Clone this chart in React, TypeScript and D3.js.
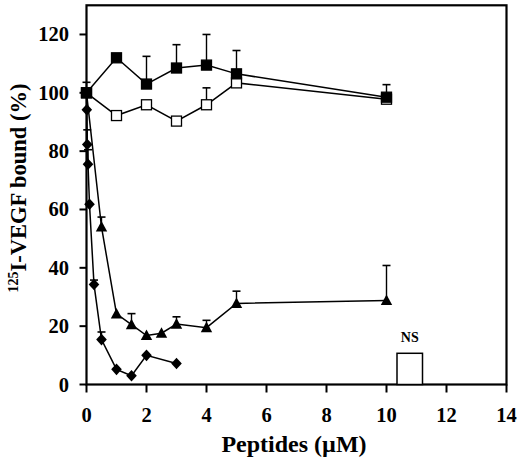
import React from "react";
import * as d3 from "d3";

const filledSqX = [0, 1, 2, 3, 4, 5, 10];
const filledSqY = [100, 112, 103, 108.5, 109.5, 106.5, 98.5];
const filledSqErr = [3.6, 0, 9.5, 8, 10.5, 8, 4.3];

const openSqX = [0, 1, 2, 3, 4, 5, 10];
const openSqY = [100, 92.2, 95.9, 90.3, 95.9, 103.4, 97.8];
const openSqErr = [0, 0, 0, 0, 5.8, 0, 0];

const triX = [0, 0.5, 1, 1.5, 2, 2.5, 3, 4, 5, 10];
const triY = [100, 54, 24.2, 20.5, 16.8, 17.6, 20.7, 19.5, 27.8, 28.8];
const triErr = [0, 3.4, 0, 3.8, 0, 0, 2.5, 2.5, 4.2, 12];

const diaX = [0, 0.01, 0.025, 0.05, 0.1, 0.25, 0.5, 1, 1.5, 2, 3];
const diaY = [100, 94.2, 82.3, 75.5, 61.8, 34.3, 15.4, 5.2, 3, 10, 7.2];
const diaErr = [0, 0, 5, 5, 0, 1.5, 2.6, 0, 0, 0, 0];

const nsX0 = 10.35;
const nsX1 = 11.2;
const nsValue = 10.7;
const nsLabel = "NS";

const xTicks = [0, 2, 4, 6, 8, 10, 12, 14];
const yTicks = [0, 20, 40, 60, 80, 100, 120];

const FONT = "'Liberation Serif', 'Times New Roman', serif";

export default function App() {
  const left = 86.5, right = 506.5, top = 5.3, bottom = 384.5;
  const x = d3.scaleLinear().domain([0, 14]).range([left, right]);
  const y = d3.scaleLinear().domain([0, 130]).range([bottom, top]);

  const mkLine = (xs: number[], ys: number[]) =>
    d3.line<number>().x((_, i) => x(xs[i])).y((v) => y(v))(ys) || "";

  const errBars = (xs: number[], ys: number[], es: number[], key: string) =>
    es.map((e, i) =>
      e > 0 ? (
        <g key={key + i}>
          <line x1={x(xs[i])} x2={x(xs[i])} y1={y(ys[i])} y2={y(ys[i] + e)} stroke="#000" strokeWidth={1.4} />
          <line x1={x(xs[i]) - 4} x2={x(xs[i]) + 4} y1={y(ys[i] + e)} y2={y(ys[i] + e)} stroke="#000" strokeWidth={1.6} />
        </g>
      ) : null
    );

  const sq = (cx: number, cy: number, fill: string, k: string) => (
    <rect key={k} x={cx - 5} y={cy - 5} width={10} height={10} fill={fill} stroke="#000" strokeWidth={1.3} />
  );
  const dia = (cx: number, cy: number, k: string) => (
    <path key={k} d={`M${cx},${cy - 5.8}L${cx + 5.3},${cy}L${cx},${cy + 5.8}L${cx - 5.3},${cy}Z`} fill="#000" />
  );
  const tri = (cx: number, cy: number, k: string) => (
    <path key={k} d={`M${cx},${cy - 6}L${cx + 5.7},${cy + 4.6}L${cx - 5.7},${cy + 4.6}Z`} fill="#000" />
  );

  return (
    <svg width={520} height={463} style={{ position: "absolute", left: 0, top: 0, background: "#fff" }}>
      <rect x={left} y={top} width={right - left} height={bottom - top} fill="none" stroke="#000" strokeWidth={2.2} />
      {yTicks.map((t) => (
        <g key={"yt" + t}>
          <line x1={left - 7} x2={left} y1={y(t)} y2={y(t)} stroke="#000" strokeWidth={2} />
          <text x={69} y={y(t) + 7} textAnchor="end" fontFamily={FONT} fontWeight="bold" fontSize={20.5}>{t}</text>
        </g>
      ))}
      {xTicks.map((t) => (
        <g key={"xt" + t}>
          <line x1={x(t)} x2={x(t)} y1={bottom} y2={bottom + 8} stroke="#000" strokeWidth={2} />
          <text x={x(t)} y={422} textAnchor="middle" fontFamily={FONT} fontWeight="bold" fontSize={20.5}>{t}</text>
        </g>
      ))}
      <rect x={x(nsX0)} y={y(nsValue)} width={x(nsX1) - x(nsX0)} height={bottom - y(nsValue)} fill="#fff" stroke="#000" strokeWidth={1.5} />
      <text x={(x(nsX0) + x(nsX1)) / 2} y={342} textAnchor="middle" fontFamily={FONT} fontWeight="bold" fontSize={14}>{nsLabel}</text>
      {errBars(filledSqX, filledSqY, filledSqErr, "fe")}
      {errBars(openSqX, openSqY, openSqErr, "oe")}
      {errBars(triX, triY, triErr, "te")}
      {errBars(diaX, diaY, diaErr, "de")}
      <path d={mkLine(filledSqX, filledSqY)} fill="none" stroke="#000" strokeWidth={1.5} />
      <path d={mkLine(openSqX, openSqY)} fill="none" stroke="#000" strokeWidth={1.5} />
      <path d={mkLine(triX, triY)} fill="none" stroke="#000" strokeWidth={1.5} />
      <path d={mkLine(diaX, diaY)} fill="none" stroke="#000" strokeWidth={1.5} />
      {diaX.map((v, i) => (i === 0 ? null : dia(x(v), y(diaY[i]), "d" + i)))}
      {triX.map((v, i) => (i === 0 ? null : tri(x(v), y(triY[i]), "t" + i)))}
      {openSqX.map((v, i) => sq(x(v), y(openSqY[i]), "#fff", "o" + i))}
      {filledSqX.map((v, i) => sq(x(v), y(filledSqY[i]), "#000", "f" + i))}
      <text x={294} y={452} textAnchor="middle" fontFamily={FONT} fontWeight="bold" fontSize={24}>Peptides (µM)</text>
      <text transform="translate(26,188) rotate(-90)" textAnchor="middle" fontFamily={FONT} fontWeight="bold" fontSize={22.5}>
        <tspan fontSize={14} dy={-8}>125</tspan>
        <tspan dy={8}>I-VEGF bound (%)</tspan>
      </text>
    </svg>
  );
}
